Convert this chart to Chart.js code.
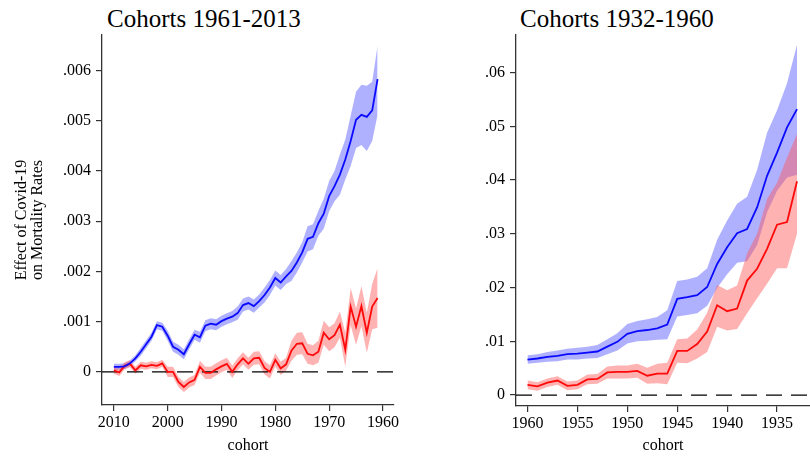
<!DOCTYPE html>
<html>
<head>
<meta charset="utf-8">
<script src="https://cdn.jsdelivr.net/npm/chart.js@4.4.0/dist/chart.umd.min.js"></script>
<style>
  html, body { margin: 0; padding: 0; background: #fff; width: 810px; height: 463px; overflow: hidden; }
  canvas.panel { position: absolute; top: 0; }
  .ttl { position: absolute; font-family: 'Liberation Serif', 'Times New Roman', serif; font-size: 25px; color: #000; white-space: nowrap; line-height: 1; }
</style>
</head>
<body>
<div class="ttl" style="left:107px; top:6px;">Cohorts 1961-2013</div>
<div class="ttl" style="left:520px; top:6px;">Cohorts 1932-1960</div>
<canvas id="leftPanel" class="panel" style="left:0px;" width="405" height="463"></canvas>
<canvas id="rightPanel" class="panel" style="left:420px;" width="390" height="463"></canvas>
<script>
// ---- Cohorts 1961-2013 (years of birth, youngest first) ----
const youngYears = [2010, 2009, 2008, 2007, 2006, 2005, 2004, 2003, 2002, 2001,
                    2000, 1999, 1998, 1997, 1996, 1995, 1994, 1993, 1992, 1991,
                    1990, 1989, 1988, 1987, 1986, 1985, 1984, 1983, 1982, 1981,
                    1980, 1979, 1978, 1977, 1976, 1975, 1974, 1973, 1972, 1971,
                    1970, 1969, 1968, 1967, 1966, 1965, 1964, 1963, 1962, 1961];
const youngBlue = [0.00010, 0.00010, 0.00011, 0.00017, 0.00027, 0.00040, 0.00055, 0.00070, 0.00093, 0.00090,
                   0.00072, 0.00050, 0.00044, 0.00035, 0.00055, 0.00074, 0.00069, 0.00092, 0.00096, 0.00094,
                   0.00101, 0.00106, 0.00110, 0.00117, 0.00133, 0.00137, 0.00131, 0.00141, 0.00153, 0.00168,
                   0.00187, 0.00178, 0.00190, 0.00201, 0.00218, 0.00238, 0.00265, 0.00269, 0.00296, 0.00315,
                   0.00350, 0.00370, 0.00393, 0.00423, 0.00460, 0.00502, 0.00512, 0.00508, 0.00521, 0.00583];
const youngBlueLo = [0.00004, 0.00004, 0.00005, 0.00011, 0.00021, 0.00032, 0.00047, 0.00062, 0.00085, 0.00082,
                     0.00062, 0.00040, 0.00034, 0.00025, 0.00045, 0.00064, 0.00058, 0.00081, 0.00085, 0.00083,
                     0.00090, 0.00095, 0.00099, 0.00104, 0.00120, 0.00124, 0.00118, 0.00128, 0.00138, 0.00153,
                     0.00172, 0.00163, 0.00175, 0.00181, 0.00198, 0.00218, 0.00240, 0.00244, 0.00271, 0.00285,
                     0.00320, 0.00340, 0.00353, 0.00383, 0.00410, 0.00446, 0.00452, 0.00440, 0.00460, 0.00512];
const youngBlueHi = [0.00016, 0.00016, 0.00017, 0.00023, 0.00033, 0.00048, 0.00063, 0.00078, 0.00101, 0.00098,
                     0.00082, 0.00060, 0.00054, 0.00045, 0.00065, 0.00084, 0.00080, 0.00103, 0.00107, 0.00105,
                     0.00112, 0.00117, 0.00121, 0.00130, 0.00146, 0.00150, 0.00144, 0.00154, 0.00168, 0.00183,
                     0.00202, 0.00193, 0.00205, 0.00221, 0.00238, 0.00258, 0.00290, 0.00294, 0.00321, 0.00345,
                     0.00380, 0.00400, 0.00433, 0.00463, 0.00510, 0.00558, 0.00572, 0.00570, 0.00578, 0.00650];
const youngRed = [0.00003, -0.00001, 0.00012, 0.00016, 0.00003, 0.00013, 0.00011, 0.00014, 0.00012, 0.00017,
                  0.00000, 0.00000, -0.00020, -0.00030, -0.00021, -0.00016, 0.00010, -0.00002, -0.00002, 0.00005,
                  0.00011, 0.00016, 0.00000, 0.00015, 0.00027, 0.00016, 0.00027, 0.00028, 0.00008, 0.00000,
                  0.00024, 0.00007, 0.00015, 0.00042, 0.00056, 0.00057, 0.00036, 0.00033, 0.00040, 0.00078,
                  0.00065, 0.00073, 0.00094, 0.00044, 0.00130, 0.00090, 0.00131, 0.00078, 0.00130, 0.00147];
const youngRedLo = [-0.00004, -0.00008, 0.00005, 0.00009, -0.00004, 0.00006, 0.00004, 0.00007, 0.00005, 0.00010,
                    -0.00010, -0.00010, -0.00030, -0.00040, -0.00031, -0.00026, -0.00002, -0.00014, -0.00014, -0.00007,
                    -0.00001, 0.00004, -0.00012, 0.00003, 0.00015, 0.00004, 0.00014, 0.00015, -0.00005, -0.00013,
                    0.00011, -0.00006, 0.00002, 0.00022, 0.00034, 0.00035, 0.00016, 0.00013, 0.00018, 0.00054,
                    0.00041, 0.00049, 0.00068, 0.00010, 0.00093, 0.00054, 0.00091, 0.00038, 0.00085, 0.00088];
const youngRedHi = [0.00010, 0.00006, 0.00019, 0.00023, 0.00010, 0.00020, 0.00018, 0.00021, 0.00019, 0.00024,
                    0.00010, 0.00010, -0.00010, -0.00020, -0.00011, -0.00006, 0.00022, 0.00010, 0.00010, 0.00017,
                    0.00023, 0.00028, 0.00012, 0.00027, 0.00039, 0.00028, 0.00040, 0.00041, 0.00021, 0.00013,
                    0.00037, 0.00020, 0.00028, 0.00062, 0.00078, 0.00079, 0.00056, 0.00053, 0.00062, 0.00102,
                    0.00089, 0.00097, 0.00120, 0.00078, 0.00167, 0.00126, 0.00171, 0.00118, 0.00175, 0.00207];
const youngXTicks = [2010, 2000, 1990, 1980, 1970, 1960];
const youngYTicks = [0, 0.001, 0.002, 0.003, 0.004, 0.005, 0.006];

// ---- Cohorts 1932-1960 ----
const oldYears = [1960, 1959, 1958, 1957, 1956, 1955, 1954, 1953, 1952, 1951,
                  1950, 1949, 1948, 1947, 1946, 1945, 1944, 1943, 1942, 1941,
                  1940, 1939, 1938, 1937, 1936, 1935, 1934, 1933];
const oldBlue = [0.0066, 0.0068, 0.0071, 0.0073, 0.0076, 0.0077, 0.0079, 0.0081, 0.0090, 0.0099,
                 0.0114, 0.0119, 0.0121, 0.0124, 0.0131, 0.0179, 0.0182, 0.0186, 0.0201, 0.0244,
                 0.0275, 0.0301, 0.0309, 0.0349, 0.0408, 0.0451, 0.0498, 0.0532];
const oldBlueLo = [0.0058, 0.0060, 0.0062, 0.0063, 0.0066, 0.0066, 0.0068, 0.0069, 0.0076, 0.0083,
                   0.0096, 0.0100, 0.0101, 0.0103, 0.0104, 0.0146, 0.0149, 0.0152, 0.0166, 0.0199,
                   0.0225, 0.0246, 0.0249, 0.0279, 0.0340, 0.0380, 0.0405, 0.0410];
const oldBlueHi = [0.0074, 0.0076, 0.0080, 0.0083, 0.0086, 0.0088, 0.0090, 0.0093, 0.0104, 0.0115,
                   0.0132, 0.0138, 0.0141, 0.0145, 0.0158, 0.0212, 0.0215, 0.0220, 0.0236, 0.0289,
                   0.0325, 0.0356, 0.0369, 0.0419, 0.0488, 0.0530, 0.0580, 0.0652];
const oldRed = [0.0019, 0.0016, 0.0023, 0.0027, 0.0017, 0.0019, 0.0029, 0.0030, 0.0042, 0.0043,
                0.0043, 0.0045, 0.0036, 0.0040, 0.0040, 0.0082, 0.0082, 0.0095, 0.0118, 0.0167,
                0.0156, 0.0161, 0.0213, 0.0235, 0.0272, 0.0317, 0.0322, 0.0398];
const oldRedLo = [0.0011, 0.0008, 0.0015, 0.0019, 0.0009, 0.0011, 0.0020, 0.0021, 0.0031, 0.0031,
                  0.0031, 0.0032, 0.0021, 0.0022, 0.0020, 0.0060, 0.0059, 0.0068, 0.0080, 0.0127,
                  0.0120, 0.0123, 0.0152, 0.0180, 0.0207, 0.0236, 0.0236, 0.0300];
const oldRedHi = [0.0027, 0.0024, 0.0031, 0.0035, 0.0025, 0.0027, 0.0038, 0.0039, 0.0053, 0.0055,
                  0.0055, 0.0058, 0.0051, 0.0058, 0.0060, 0.0104, 0.0105, 0.0122, 0.0153, 0.0205,
                  0.0195, 0.0204, 0.0264, 0.0300, 0.0365, 0.0395, 0.0442, 0.0486];
const oldXTicks = [1960, 1955, 1950, 1945, 1940, 1935];
const oldYTicks = [0, 0.01, 0.02, 0.03, 0.04, 0.05, 0.06];

// ---- shared styling ----
const SERIF = "'Liberation Serif', 'Times New Roman', serif";
const BLUE = '#0a0aff', RED = '#ff0a0a';
const BLUE_BAND = 'rgba(85, 90, 255, 0.47)';
const RED_BAND = 'rgba(255, 85, 85, 0.45)';
const AXIS = '#333';

function points(xs, ys) { return xs.map((x, i) => ({ x: x, y: ys[i] })); }

function bandSets(xs, lo, hi, color, ord) {
  return [
    { data: points(xs, hi), borderWidth: 0, pointRadius: 0, fill: '+1', backgroundColor: color, order: ord },
    { data: points(xs, lo), borderWidth: 0, pointRadius: 0, fill: false, order: ord }
  ];
}

function lineSet(xs, ys, color) {
  return { data: points(xs, ys), borderColor: color, borderWidth: 1.8, pointRadius: 0, fill: false, order: 0 };
}

function buildPanel(id, o) {
  const tickFont = { family: SERIF, size: 16 };
  const datasets = [
    lineSet(o.years, o.blue, BLUE),
    lineSet(o.years, o.red, RED),
    { data: [{ x: o.xMax, y: 0 }, { x: o.xMin, y: 0 }], borderColor: '#000', borderWidth: 1.3,
      borderDash: [16, 9], pointRadius: 0, fill: false, order: 1 },
    ...bandSets(o.years, o.redLo, o.redHi, RED_BAND, 2),
    ...bandSets(o.years, o.blueLo, o.blueHi, BLUE_BAND, 3)
  ];
  return new Chart(document.getElementById(id), {
    type: 'line',
    data: { datasets: datasets },
    options: {
      responsive: false,
      animation: false,
      devicePixelRatio: 1,
      layout: { padding: { top: 35, right: o.padRight, left: 0, bottom: 0 } },
      plugins: { legend: { display: false }, tooltip: { enabled: false } },
      elements: { line: { tension: 0 } },
      scales: {
        x: {
          type: 'linear', reverse: true, min: o.xMin, max: o.xMax,
          afterBuildTicks: s => { s.ticks = o.xTicks.map(v => ({ value: v })); },
          afterFit: s => { s.height = o.xAxisH; },
          ticks: { font: tickFont, color: '#000', padding: 2, maxRotation: 0, autoSkip: false,
                   callback: v => String(v) },
          grid: { drawOnChartArea: false, drawTicks: true, tickLength: 6, color: AXIS, lineWidth: 1.2 },
          border: { display: true, color: AXIS, width: 1.3 },
          title: { display: true, text: 'cohort', font: { family: SERIF, size: 16 }, color: '#000',
                   padding: { top: 0, bottom: 8 } }
        },
        y: {
          type: 'linear', min: o.yMin, max: o.yMax,
          afterBuildTicks: s => { s.ticks = o.yTicks.map(v => ({ value: v })); },
          afterFit: s => { s.width = o.yAxisW; },
          ticks: { font: tickFont, color: '#000', padding: 5, callback: o.yFmt },
          grid: { drawOnChartArea: false, drawTicks: true, tickLength: 6, color: AXIS, lineWidth: 1.2 },
          border: { display: true, color: AXIS, width: 1.3 },
          title: o.yTitle
            ? { display: true, text: o.yTitle, font: { family: SERIF, size: 16, lineHeight: 1.0 },
                color: '#000', padding: { top: 14, bottom: 0 } }
            : { display: false }
        }
      }
    }
  });
}

buildPanel('leftPanel', {
  years: youngYears, blue: youngBlue, blueLo: youngBlueLo, blueHi: youngBlueHi,
  red: youngRed, redLo: youngRedLo, redHi: youngRedHi,
  xTicks: youngXTicks, yTicks: youngYTicks,
  xMin: 1957.95, xMax: 2012.2, yMin: -0.00066, yMax: 0.00671,
  yFmt: v => (v === 0 ? '0' : v.toFixed(3).replace(/^0/, '')),
  yTitle: ['Effect of Covid-19', 'on Mortality Rates'],
  yAxisW: 102, xAxisH: 58, padRight: 11
});

buildPanel('rightPanel', {
  years: oldYears, blue: oldBlue, blueLo: oldBlueLo, blueHi: oldBlueHi,
  red: oldRed, redLo: oldRedLo, redHi: oldRedHi,
  xTicks: oldXTicks, yTicks: oldYTicks,
  xMin: 1931.7, xMax: 1961.15, yMin: -0.00204, yMax: 0.067,
  yFmt: v => (v === 0 ? '0' : v.toFixed(2).replace(/^0/, '')),
  yTitle: null,
  yAxisW: 96, xAxisH: 57, padRight: 0
});
</script>
</body>
</html>
